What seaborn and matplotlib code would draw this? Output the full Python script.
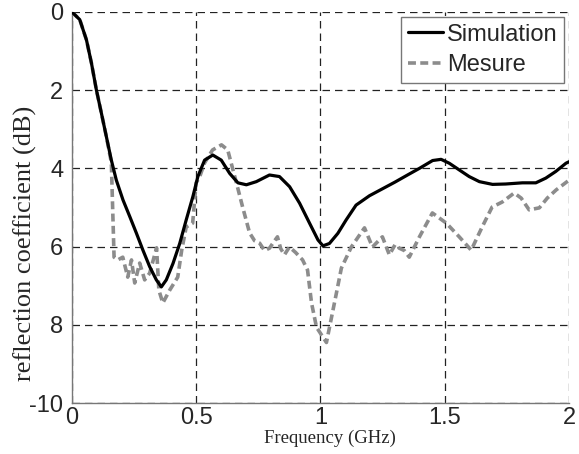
import numpy as np
import pandas as pd
import matplotlib
matplotlib.use("Agg")
import matplotlib.pyplot as plt
import seaborn as sns

# simulated reflection coefficient (GHz, dB)
sim_freq = [0.0, 0.032, 0.059, 0.079, 0.099, 0.119, 0.139, 0.159, 0.179, 0.206,
            0.233, 0.26, 0.286, 0.313, 0.34, 0.36, 0.38, 0.407, 0.434, 0.46,
            0.487, 0.507, 0.534, 0.567, 0.601, 0.635, 0.668, 0.702, 0.742, 0.795,
            0.835, 0.876, 0.916, 0.956, 0.99, 1.01, 1.036, 1.07, 1.103, 1.143,
            1.197, 1.25, 1.30, 1.35, 1.398, 1.451, 1.485, 1.518, 1.558, 1.598,
            1.639, 1.692, 1.745, 1.812, 1.866, 1.906, 1.946, 1.987, 2.0]
sim_db = [0.0, -0.2, -0.72, -1.31, -2.0, -2.59, -3.19, -3.79, -4.30, -4.81,
          -5.23, -5.66, -6.09, -6.51, -6.85, -7.03, -6.85, -6.43, -5.92, -5.32,
          -4.72, -4.21, -3.79, -3.66, -3.79, -4.13, -4.37, -4.42, -4.34, -4.17,
          -4.21, -4.47, -4.89, -5.40, -5.83, -5.98, -5.92, -5.66, -5.32, -4.94,
          -4.70, -4.52, -4.35, -4.17, -4.0, -3.80, -3.77, -3.87, -4.04, -4.21,
          -4.34, -4.41, -4.40, -4.37, -4.37, -4.25, -4.08, -3.87, -3.83]

# measured reflection coefficient
mes_freq = [0.0, 0.032, 0.059, 0.079, 0.099, 0.119, 0.139, 0.159, 0.17, 0.185,
            0.205, 0.225, 0.24, 0.253, 0.273, 0.293, 0.313, 0.341, 0.35, 0.366,
            0.394, 0.426, 0.442, 0.46, 0.486, 0.50, 0.514, 0.534, 0.566, 0.602,
            0.627, 0.662, 0.687, 0.715, 0.735, 0.755, 0.775, 0.795, 0.81, 0.827,
            0.84, 0.855, 0.875, 0.90, 0.928, 0.948, 0.964, 0.984, 1.024, 1.064,
            1.084, 1.124, 1.177, 1.209, 1.249, 1.277, 1.30, 1.317, 1.337, 1.357,
            1.398, 1.45, 1.506, 1.558, 1.606, 1.65, 1.69, 1.731, 1.779, 1.807,
            1.839, 1.88, 1.912, 1.948, 2.0]
mes_db = [0.0, -0.2, -0.72, -1.31, -2.0, -2.59, -3.19, -3.85, -6.27, -6.34,
          -6.27, -6.78, -6.34, -6.93, -6.42, -6.85, -6.68, -6.03, -7.11, -7.44,
          -7.11, -6.78, -6.09, -5.5, -5.4, -4.37, -4.22, -3.86, -3.53, -3.40,
          -3.53, -4.37, -4.99, -5.65, -5.85, -5.91, -6.1, -6.04, -5.9, -5.75,
          -6.05, -6.21, -6.01, -6.15, -6.34, -6.6, -7.44, -8.06, -8.45, -7.19,
          -6.55, -6.01, -5.52, -6.01, -5.75, -6.21, -5.95, -6.04, -6.1, -6.27,
          -5.75, -5.14, -5.4, -5.75, -6.09, -5.5, -4.99, -4.86, -4.63, -4.76,
          -5.06, -5.01, -4.76, -4.55, -4.3]

y_ticks = [0, -2, -4, -6, -8, -10]
y_ticklabels = ["0", "2", "4", "6", "8", "-10"]
x_ticks = [0, 0.5, 1, 1.5, 2]
x_ticklabels = ["0", "0.5", "1", "1.5", "2"]

sns.set_style("white")
plt.rcParams["font.family"] = ["Liberation Sans", "DejaVu Sans"]

fig = plt.figure(figsize=(5.79, 4.54), dpi=100)
ax = fig.add_axes([0.124, 0.112, 0.859, 0.862])

sim = pd.DataFrame({"f": sim_freq, "db": sim_db})
mes = pd.DataFrame({"f": mes_freq, "db": mes_db})
sns.lineplot(data=sim, x="f", y="db", ax=ax, color="black", lw=2.3,
             label="Simulation", sort=False, zorder=3)
sns.lineplot(data=mes, x="f", y="db", ax=ax, color="#8c8c8c", lw=2.6,
             label="Mesure", sort=False, zorder=2)
ax.lines[1].set_linestyle((0, (2.2, 1.2)))

ax.set_xlim(0, 2)
ax.set_ylim(-10, 0)
ax.set_xticks(x_ticks, x_ticklabels)
ax.set_yticks(y_ticks, y_ticklabels)
ax.tick_params(axis="both", labelsize=17, direction="in", length=4,
               color="#555555", pad=3)
ax.tick_params(axis="y", pad=6)

ax.grid(True, color="#222222", linestyle=(0, (6, 4)), lw=0.9)
for side in ["top", "right"]:
    ax.spines[side].set_visible(False)
for side in ["left", "bottom"]:
    ax.spines[side].set_color("#777777")
    ax.spines[side].set_linewidth(1.0)

ax.set_xlabel("Frequency (GHz)", family="Liberation Serif", fontsize=13.5)
ax.set_ylabel("reflection coefficient (dB)", family="Liberation Serif",
              fontsize=19)
ax.xaxis.set_label_coords(0.519, -0.068)
ax.yaxis.set_label_coords(-0.07, 0.407)

leg = ax.legend(loc="upper right", fontsize=17, handlelength=1.5,
                handletextpad=0.15, borderpad=0.3, labelspacing=0.35,
                borderaxespad=0.2, fancybox=False, framealpha=1,
                edgecolor="#777777")
leg.get_frame().set_linewidth(1.0)

fig.savefig("out.png", dpi=100)
